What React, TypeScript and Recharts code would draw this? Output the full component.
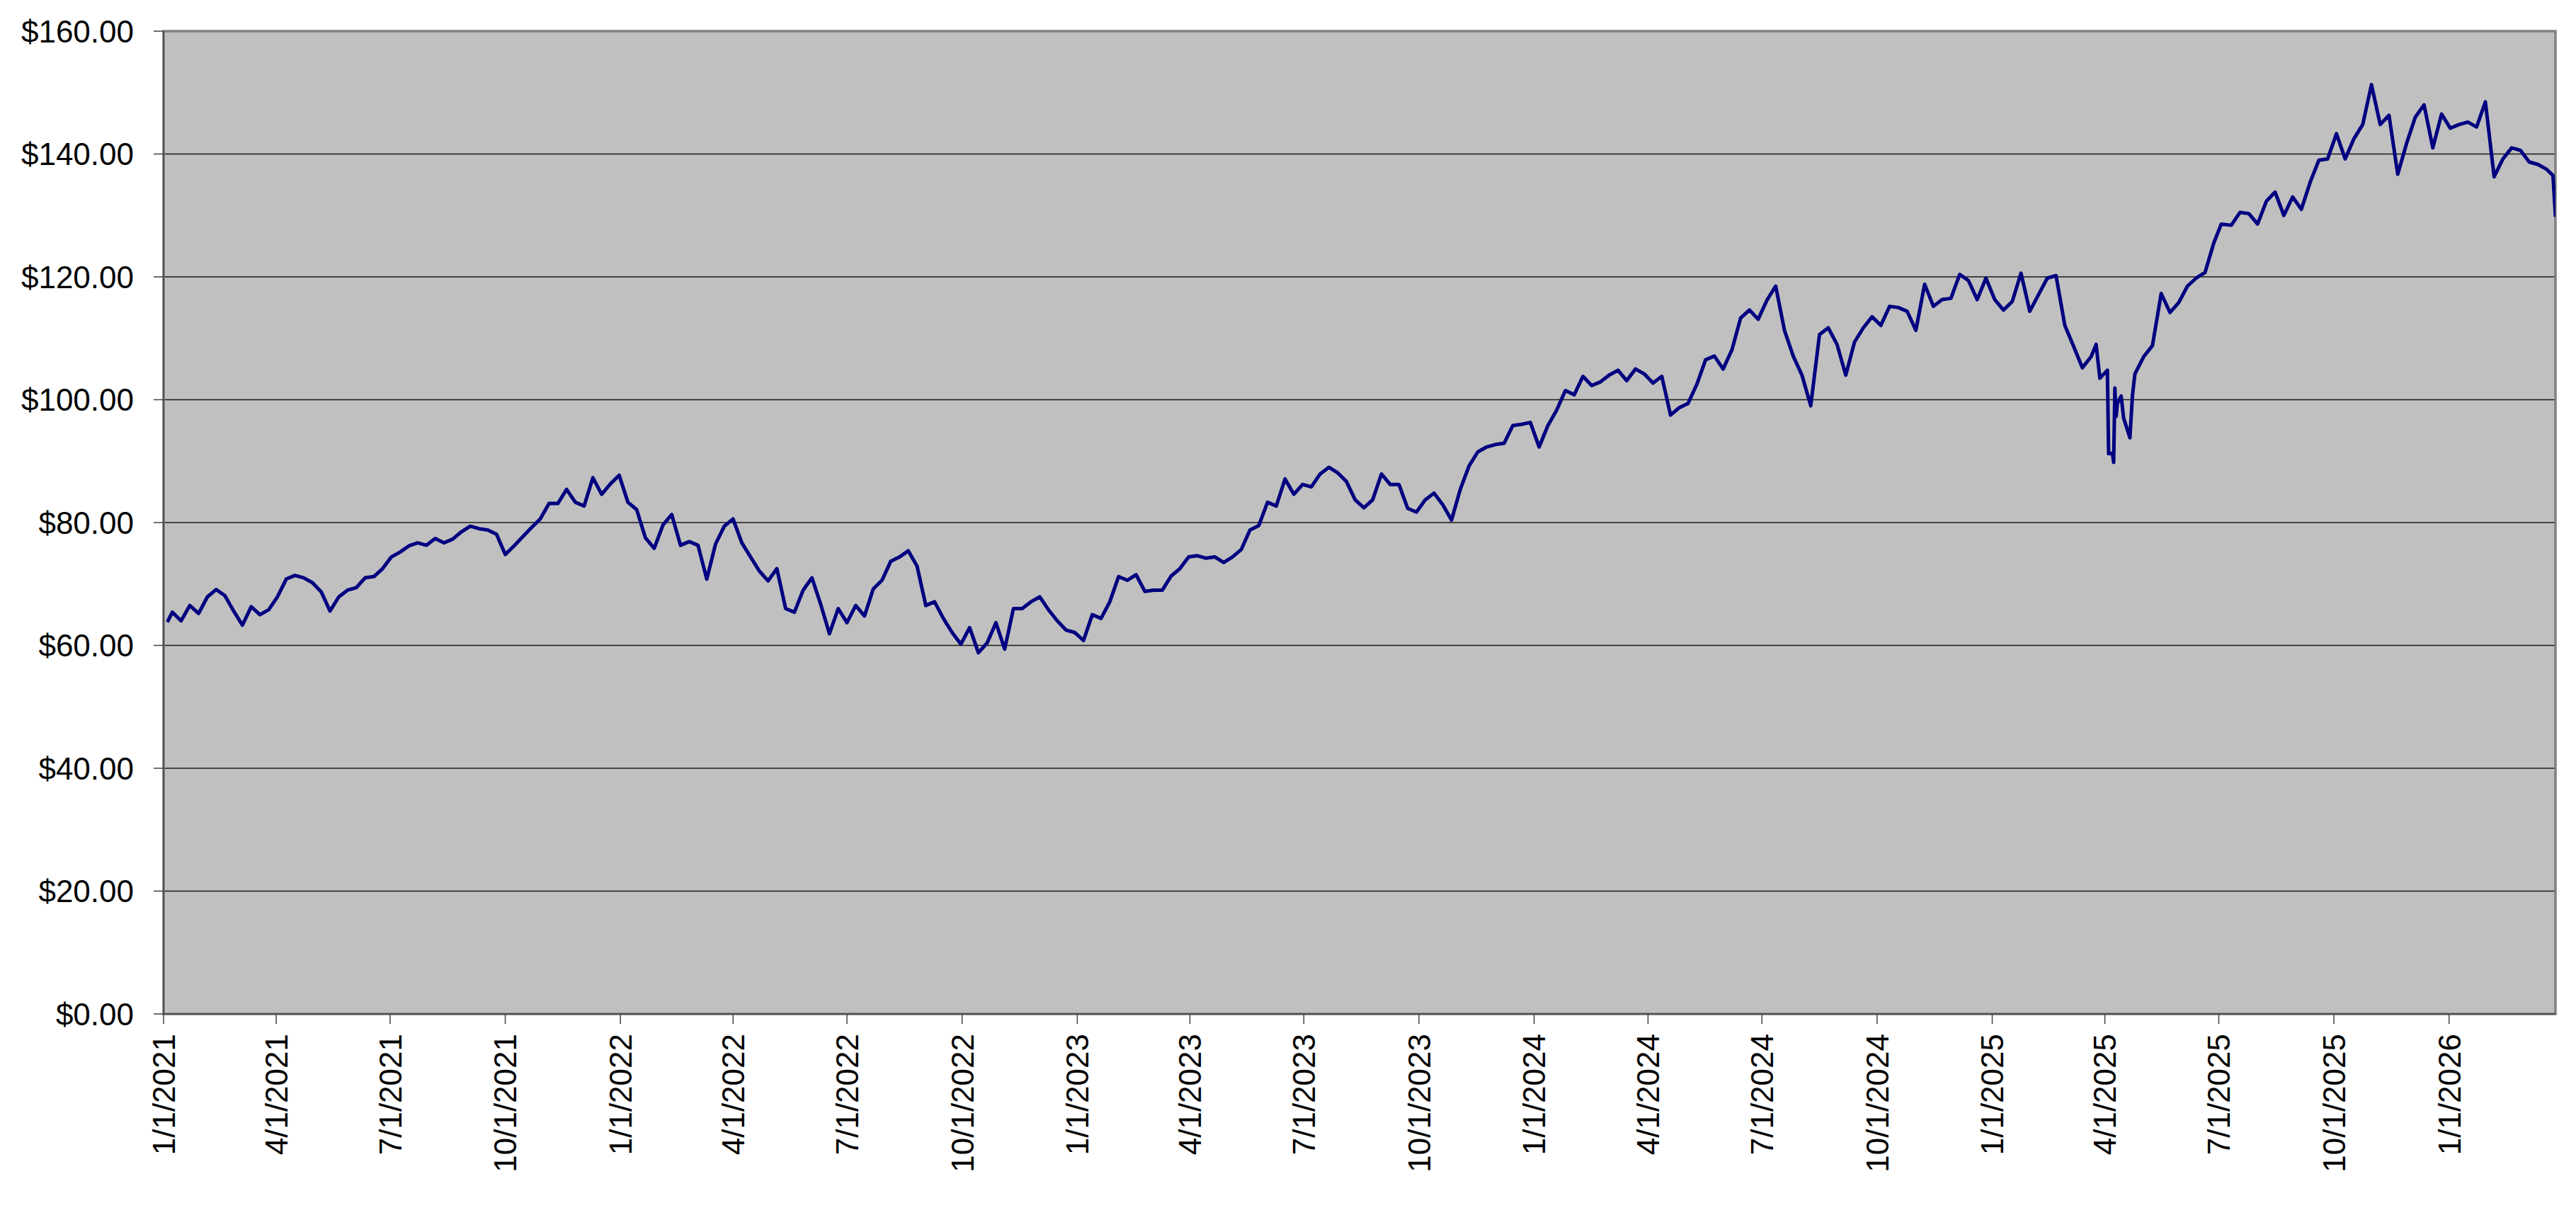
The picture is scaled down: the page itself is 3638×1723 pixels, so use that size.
import React from "react";
import {
  LineChart,
  Line,
  XAxis,
  YAxis,
  CartesianGrid,
  ReferenceArea,
} from "recharts";

const FONT = '"Liberation Sans", Arial, sans-serif';

// ---------- data (weekly closes) ----------
const dates2021 = [
  "2021-01-04","2021-01-08","2021-01-15","2021-01-22","2021-01-29",
  "2021-02-05","2021-02-12","2021-02-19","2021-02-26",
  "2021-03-05","2021-03-12","2021-03-19","2021-03-26",
  "2021-04-02","2021-04-09","2021-04-16","2021-04-23","2021-04-30",
  "2021-05-07","2021-05-14","2021-05-21","2021-05-28",
  "2021-06-04","2021-06-11","2021-06-18","2021-06-25",
  "2021-07-02","2021-07-09","2021-07-16","2021-07-23","2021-07-30",
  "2021-08-06","2021-08-13","2021-08-20","2021-08-27",
  "2021-09-03","2021-09-10","2021-09-17","2021-09-24",
  "2021-10-01","2021-10-08","2021-10-15","2021-10-22","2021-10-29",
  "2021-11-05","2021-11-12","2021-11-19","2021-11-26",
  "2021-12-03","2021-12-10","2021-12-17","2021-12-24","2021-12-31",
];
const prices2021 = [
  63.8, 65.4, 64.0, 66.5, 65.2,
  67.9, 69.1, 68.1, 65.6,
  63.3, 66.3, 65.0, 65.8,
  67.9, 70.8, 71.4, 71.0, 70.2,
  68.7, 65.6, 67.9, 69.0,
  69.4, 71.0, 71.2, 72.5,
  74.4, 75.2, 76.2, 76.7, 76.3,
  77.4, 76.7, 77.3, 78.5,
  79.4, 79.0, 78.8, 78.1,
  74.8, 76.2, 77.7, 79.2, 80.6,
  83.1, 83.1, 85.4, 83.3,
  82.7, 87.3, 84.6, 86.3, 87.7,
];

const dates2022 = [
  "2022-01-07","2022-01-14","2022-01-21","2022-01-28",
  "2022-02-04","2022-02-11","2022-02-18","2022-02-25",
  "2022-03-04","2022-03-11","2022-03-18","2022-03-25",
  "2022-04-01","2022-04-08","2022-04-15","2022-04-22","2022-04-29",
  "2022-05-06","2022-05-13","2022-05-20","2022-05-27",
  "2022-06-03","2022-06-10","2022-06-17","2022-06-24",
  "2022-07-01","2022-07-08","2022-07-15","2022-07-22","2022-07-29",
  "2022-08-05","2022-08-12","2022-08-19","2022-08-26",
  "2022-09-02","2022-09-09","2022-09-16","2022-09-23","2022-09-30",
  "2022-10-07","2022-10-14","2022-10-21","2022-10-28",
  "2022-11-04","2022-11-11","2022-11-18","2022-11-25",
  "2022-12-02","2022-12-09","2022-12-16","2022-12-23","2022-12-30",
];
const prices2022 = [
  83.3, 82.1, 77.5, 75.8,
  79.6, 81.3, 76.3, 76.9,
  76.3, 70.8, 76.5, 79.4,
  80.6, 76.7, 74.4, 72.1, 70.5,
  72.5, 66.0, 65.4, 69.0,
  71.0, 66.7, 61.9, 66.0,
  63.7, 66.5, 64.8, 69.2, 70.6,
  73.7, 74.4, 75.4, 72.9,
  66.5, 67.1, 64.4, 62.1, 60.2,
  62.9, 58.8, 60.4, 63.7,
  59.4, 66.0, 66.0, 67.1,
  67.9, 65.8, 64.0, 62.5, 62.1,
];

const dates2023 = [
  "2023-01-06","2023-01-13","2023-01-20","2023-01-27",
  "2023-02-03","2023-02-10","2023-02-17","2023-02-24",
  "2023-03-03","2023-03-10","2023-03-17","2023-03-24","2023-03-31",
  "2023-04-07","2023-04-14","2023-04-21","2023-04-28",
  "2023-05-05","2023-05-12","2023-05-19","2023-05-26",
  "2023-06-02","2023-06-09","2023-06-16","2023-06-23","2023-06-30",
  "2023-07-07","2023-07-14","2023-07-21","2023-07-28",
  "2023-08-04","2023-08-11","2023-08-18","2023-08-25",
  "2023-09-01","2023-09-08","2023-09-15","2023-09-22","2023-09-29",
  "2023-10-06","2023-10-13","2023-10-20","2023-10-27",
  "2023-11-03","2023-11-10","2023-11-17","2023-11-24",
  "2023-12-01","2023-12-08","2023-12-15","2023-12-22","2023-12-29",
];
const prices2023 = [
  60.8, 65.0, 64.4, 67.1,
  71.2, 70.6, 71.5, 68.8,
  69.0, 69.0, 71.3, 72.5, 74.4,
  74.6, 74.2, 74.4, 73.5,
  74.4, 75.6, 78.8, 79.5,
  83.3, 82.7, 87.1, 84.6, 86.2,
  85.8, 87.9, 89.0, 88.1,
  86.7, 83.7, 82.4, 83.7,
  87.9, 86.2, 86.2, 82.3, 81.7,
  83.7, 84.8, 82.9, 80.4,
  85.4, 89.2, 91.5, 92.3,
  92.7, 92.9, 95.8, 96.0, 96.3,
];

const dates2024 = [
  "2024-01-05","2024-01-12","2024-01-19","2024-01-26",
  "2024-02-02","2024-02-09","2024-02-16","2024-02-23",
  "2024-03-01","2024-03-08","2024-03-15","2024-03-22","2024-03-29",
  "2024-04-05","2024-04-12","2024-04-19","2024-04-26",
  "2024-05-03","2024-05-10","2024-05-17","2024-05-24","2024-05-31",
  "2024-06-07","2024-06-14","2024-06-21","2024-06-28",
  "2024-07-05","2024-07-12","2024-07-19","2024-07-26",
  "2024-08-02","2024-08-09","2024-08-16","2024-08-23","2024-08-30",
  "2024-09-06","2024-09-13","2024-09-20","2024-09-27",
  "2024-10-04","2024-10-11","2024-10-18","2024-10-25",
  "2024-11-01","2024-11-08","2024-11-15","2024-11-22","2024-11-29",
  "2024-12-06","2024-12-13","2024-12-20","2024-12-27",
];
const prices2024 = [
  92.3, 95.8, 98.3, 101.5,
  100.8, 103.8, 102.3, 102.9,
  104.0, 104.8, 103.1, 105.0, 104.2,
  102.7, 103.8, 97.5, 98.7,
  99.4, 102.5, 106.5, 107.1, 105.0,
  108.1, 113.3, 114.6, 113.1,
  116.2, 118.5, 111.3, 107.1,
  104.0, 99.0, 110.6, 111.7, 109.0,
  104.0, 109.4, 111.7, 113.5,
  112.1, 115.2, 115.0, 114.4,
  111.3, 118.8, 115.2, 116.3, 116.5,
  120.4, 119.4, 116.3, 119.8,
];

const dates2025 = [
  "2025-01-03","2025-01-10","2025-01-17","2025-01-24","2025-01-31",
  "2025-02-07","2025-02-14","2025-02-21","2025-02-28",
  "2025-03-07","2025-03-14","2025-03-21","2025-03-25","2025-03-28",
  "2025-04-03","2025-04-04","2025-04-07","2025-04-08","2025-04-09",
  "2025-04-10","2025-04-11","2025-04-14","2025-04-16","2025-04-21",
  "2025-04-23","2025-04-25",
  "2025-05-02","2025-05-09","2025-05-16","2025-05-23","2025-05-30",
  "2025-06-06","2025-06-13","2025-06-20","2025-06-27",
  "2025-07-03","2025-07-11","2025-07-18","2025-07-25",
  "2025-08-01","2025-08-08","2025-08-15","2025-08-22","2025-08-29",
  "2025-09-05","2025-09-12","2025-09-19","2025-09-26",
  "2025-10-03","2025-10-10","2025-10-17","2025-10-24","2025-10-31",
  "2025-11-07","2025-11-14","2025-11-21","2025-11-28",
  "2025-12-05","2025-12-12","2025-12-19","2025-12-26",
];
const prices2025 = [
  116.3, 114.6, 116.0, 120.6, 114.4,
  117.1, 119.8, 120.2, 112.1,
  108.7, 105.2, 107.0, 109.0, 103.5,
  104.8, 91.2, 91.3, 89.8, 101.9,
  97.3, 99.4, 100.6, 97.0, 93.8,
  100.6, 104.2,
  107.0, 108.8, 117.3, 114.2, 115.8,
  118.5, 119.8, 120.7, 125.5,
  128.6, 128.4, 130.5, 130.3,
  128.6, 132.3, 133.8, 130.0, 133.0,
  131.0, 135.4, 139.0, 139.2,
  143.3, 139.2, 142.5, 144.8, 151.3,
  144.8, 146.3, 136.7, 141.7,
  146.0, 148.0, 141.0, 146.5,
];

const dates2026 = [
  "2026-01-02","2026-01-09","2026-01-16","2026-01-23","2026-01-30",
  "2026-02-06","2026-02-13","2026-02-20","2026-02-27",
  "2026-03-06","2026-03-13","2026-03-20","2026-03-25","2026-03-27",
];
const prices2026 = [
  144.2, 144.8, 145.2, 144.4, 148.5,
  136.3, 139.2, 141.0, 140.6,
  138.7, 138.3, 137.5, 136.5, 129.8,
];

// ---------- axis ticks ----------
const xTickDates = [
  "2021-01-01","2021-04-01","2021-07-01","2021-10-01",
  "2022-01-01","2022-04-01","2022-07-01","2022-10-01",
  "2023-01-01","2023-04-01","2023-07-01","2023-10-01",
  "2024-01-01","2024-04-01","2024-07-01","2024-10-01",
  "2025-01-01","2025-04-01","2025-07-01","2025-10-01",
  "2026-01-01",
];
const xTickLabels = [
  "1/1/2021","4/1/2021","7/1/2021","10/1/2021",
  "1/1/2022","4/1/2022","7/1/2022","10/1/2022",
  "1/1/2023","4/1/2023","7/1/2023","10/1/2023",
  "1/1/2024","4/1/2024","7/1/2024","10/1/2024",
  "1/1/2025","4/1/2025","7/1/2025","10/1/2025",
  "1/1/2026",
];
const yTicks = [0, 20, 40, 60, 80, 100, 120, 140, 160];
const xDomainStart = "2021-01-01";
const xDomainEnd = "2026-03-27";

// ---------- build table ----------
const allDates = [
  ...dates2021, ...dates2022, ...dates2023, ...dates2024, ...dates2025, ...dates2026,
];
const allPrices = [
  ...prices2021, ...prices2022, ...prices2023, ...prices2024, ...prices2025, ...prices2026,
];
const data = allDates.map((d, i) => ({ t: Date.parse(d), price: allPrices[i] }));
const xTicks = xTickDates.map((d) => Date.parse(d));
const labelByTime: Record<number, string> = {};
xTicks.forEach((t, i) => {
  labelByTime[t] = xTickLabels[i];
});
const t0 = Date.parse(xDomainStart);
const t1 = Date.parse(xDomainEnd);

const XTick = (props: any) => {
  const { x, y, payload } = props;
  return (
    <g transform={`translate(${x},${y})`}>
      <text
        transform="rotate(-90)"
        textAnchor="end"
        dy="0.36em"
        fontSize={44}
        fontFamily={FONT}
        fill="#000"
      >
        {labelByTime[payload.value] ?? ""}
      </text>
    </g>
  );
};

export default function App() {
  return (
    <div style={{ width: 3622, height: 1700, background: "#fff" }}>
      <LineChart
        width={3622}
        height={1700}
        data={data}
        margin={{ top: 36, right: 21, left: 0, bottom: 16 }}
      >
        <CartesianGrid
          horizontal={true}
          vertical={false}
          fill="#C0C0C0"
          fillOpacity={1}
          stroke="#1a1a1a"
          strokeWidth={1.4}
        />
        <ReferenceArea
          x1={t0}
          x2={t1}
          y1={0}
          y2={160}
          fill="none"
          stroke="#808080"
          strokeWidth={3.5}
          ifOverflow="visible"
        />
        <XAxis
          dataKey="t"
          type="number"
          scale="time"
          domain={[t0, t1]}
          ticks={xTicks}
          interval={0}
          height={260}
          tickSize={14}
          tickMargin={14}
          tick={<XTick />}
          axisLine={{ stroke: "#404040", strokeWidth: 1.5 }}
          tickLine={{ stroke: "#404040", strokeWidth: 1.5 }}
          allowDataOverflow={true}
        />
        <YAxis
          type="number"
          domain={[0, 160]}
          ticks={yTicks}
          interval={0}
          width={223}
          tickSize={14}
          tickMargin={28}
          tickFormatter={(v: number) => `$${v.toFixed(2)}`}
          tick={{ fill: "#000", fontSize: 44, fontFamily: FONT }}
          axisLine={{ stroke: "#404040", strokeWidth: 1.5 }}
          tickLine={{ stroke: "#404040", strokeWidth: 1.5 }}
        />
        <Line
          type="linear"
          dataKey="price"
          stroke="#000080"
          strokeWidth={5}
          strokeLinejoin="round"
          dot={false}
          activeDot={false}
          isAnimationActive={false}
        />
      </LineChart>
    </div>
  );
}
